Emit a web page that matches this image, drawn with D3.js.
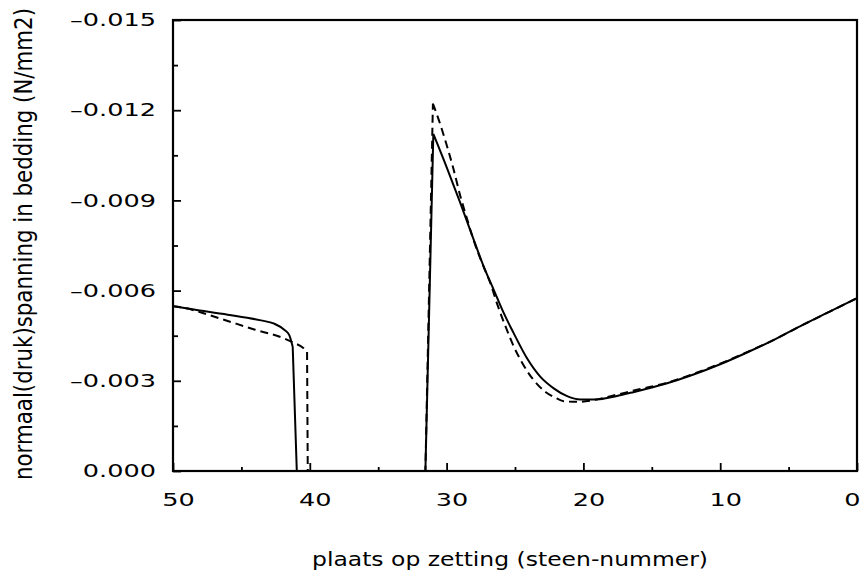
<!DOCTYPE html>
<html>
<head>
<meta charset="utf-8">
<script src="https://cdn.jsdelivr.net/npm/d3@7"></script>
<style>
  html, body { margin: 0; padding: 0; background: #fff; }
  svg { display: block; }
  text { font-family: "DejaVu Sans", sans-serif; fill: #000; }
</style>
</head>
<body>
<svg id="chart" width="864" height="572"></svg>
<script>
// Normal (compressive) stress in the bedding along the revetment, per stone number.
// Solid series
const solidStone = [50, 48.47, 46, 43.58, 42.6, 41.87, 41.5, 41.25, 40.95, 31.55, 30.97, 29.95, 28.98, 28.0,
  27.27, 26.54, 25.81, 25.08, 24.11, 23.14, 22.17, 21.19, 20.22, 19.0, 17.79, 16.57, 14, 12, 10, 8, 6, 4, 2, 0];
const solidStress = [-0.00548, -0.00537, -0.00520, -0.00501, -0.00490, -0.00470, -0.00452, -0.00413, 0, 0,
  -0.01121, -0.01005, -0.00889, -0.00767, -0.00678, -0.00601, -0.00524, -0.00457, -0.00374, -0.00313, -0.00275,
  -0.00249, -0.00238, -0.00238, -0.00247, -0.00260, -0.00290, -0.00320, -0.00355, -0.00395, -0.00438, -0.00485,
  -0.00530, -0.00575];

// Dashed series
const dashedStone = [50, 49, 48, 46, 44, 42, 41.2, 40.45, 40.2, 40.15, 31.55, 31.0, 30.56, 30.0, 29.5, 29.0,
  28.5, 28.0, 27.3, 26.8, 26.3, 25.6, 25.08, 24.5, 23.99, 23.4, 22.77, 22.1, 21.44, 20.46, 19.25, 18, 16, 14,
  12, 10, 8, 6, 4, 2, 0];
const dashedStress = [-0.00548, -0.00541, -0.00528, -0.00499, -0.00470, -0.00443, -0.00427, -0.00408, -0.00396,
  0, 0, -0.01222, -0.01166, -0.01085, -0.01005, -0.00915, -0.00838, -0.00764, -0.00680, -0.00625, -0.00555,
  -0.00470, -0.00413, -0.00362, -0.00324, -0.00290, -0.00263, -0.00245, -0.00232, -0.00230, -0.00236, -0.00249,
  -0.00271, -0.00292, -0.00322, -0.00357, -0.00396, -0.00438, -0.00485, -0.00530, -0.00575];

// Axis ticks and titles
const majorStoneTicks = [50, 40, 30, 20, 10, 0];
const minorStoneTicks = [45, 35, 25, 15, 5];
const majorStressTicks = [0, -0.003, -0.006, -0.009, -0.012, -0.015];
const minorStressTicks = [-0.0015, -0.0045, -0.0075, -0.0105, -0.0135];
const xTitle = "plaats op zetting (steen-nummer)";
const yTitle = "normaal(druk)spanning in bedding (N/mm2)";

const plotLeft = 173, plotRight = 857, plotTop = 20, plotBottom = 471;

const x = d3.scaleLinear().domain([50, 0]).range([plotLeft, plotRight]);
const y = d3.scaleLinear().domain([0, -0.015]).range([plotBottom, plotTop]);

const svg = d3.select("#chart");

const fmt = d3.formatLocale({ decimal: ".", thousands: ",", grouping: [3], currency: ["", ""], minus: "\u2013" }).format(".3f");

// Horizontal axis: ticks point into the plot
const xMajor = svg.append("g").attr("transform", `translate(0,${plotBottom})`)
  .call(d3.axisBottom(x).tickValues(majorStoneTicks).tickSize(-8).tickSizeOuter(0).tickFormat(d3.format("d")));
const xMinor = svg.append("g").attr("transform", `translate(0,${plotBottom})`)
  .call(d3.axisBottom(x).tickValues(minorStoneTicks).tickSize(-4).tickSizeOuter(0).tickFormat(""));

// Vertical axis
const yMajor = svg.append("g").attr("transform", `translate(${plotLeft},0)`)
  .call(d3.axisLeft(y).tickValues(majorStressTicks).tickSize(-8).tickSizeOuter(0).tickFormat(fmt));
const yMinor = svg.append("g").attr("transform", `translate(${plotLeft},0)`)
  .call(d3.axisLeft(y).tickValues(minorStressTicks).tickSize(-5).tickSizeOuter(0).tickFormat(""));

[xMajor, xMinor, yMajor, yMinor].forEach(g => {
  g.select(".domain").remove();
  g.selectAll(".tick line").attr("stroke", "#000").attr("stroke-width", 1.8);
});

// Wide plotter-style lettering for tick labels
xMajor.selectAll(".tick text")
  .attr("font-size", 18)
  .attr("fill", "#000")
  .attr("y", 0)
  .attr("dy", "0.71em")
  .attr("transform", (d, i, n) => `translate(${i === n.length - 1 ? -5 : 5},22) scale(1.42,1)`);

yMajor.selectAll(".tick text")
  .attr("font-size", 18)
  .attr("fill", "#000")
  .attr("x", 0)
  .attr("transform", "translate(-17,0) scale(1.42,1)");

// Clip for the curves
svg.append("clipPath").attr("id", "plotClip")
  .append("rect").attr("x", plotLeft).attr("y", plotTop)
  .attr("width", plotRight - plotLeft).attr("height", plotBottom - plotTop);

const smooth = d3.line().x(d => x(d[0])).y(d => y(d[1])).curve(d3.curveMonotoneX);
const straight = d3.line().x(d => x(d[0])).y(d => y(d[1])).curve(d3.curveLinear);

// A series is drawn in three pieces: the smooth plateau, the straight drop / unloaded run / rise
// to the peak, and the smooth decay after the peak.
function pieces(stones, stresses) {
  const pts = d3.zip(stones, stresses);
  const firstZero = stresses.indexOf(0);
  const peak = d3.minIndex(stresses);
  return [
    { pts: pts.slice(0, firstZero), gen: smooth },
    { pts: pts.slice(firstZero - 1, peak + 1), gen: straight },
    { pts: pts.slice(peak), gen: smooth }
  ];
}

const curves = svg.append("g").attr("clip-path", "url(#plotClip)");

function drawSeries(stones, stresses, dash) {
  const p = pieces(stones, stresses);
  const d = p.map(s => s.gen(s.pts)).join("");
  curves.append("path")
    .attr("d", d)
    .attr("fill", "none")
    .attr("stroke", "#000")
    .attr("stroke-width", 2)
    .attr("stroke-linejoin", "round")
    .attr("stroke-dasharray", dash);
}

drawSeries(dashedStone, dashedStress, "8,5");
drawSeries(solidStone, solidStress, null);

// Plot frame
svg.append("rect")
  .attr("x", plotLeft).attr("y", plotTop)
  .attr("width", plotRight - plotLeft).attr("height", plotBottom - plotTop)
  .attr("fill", "none").attr("stroke", "#000").attr("stroke-width", 2.2);

// Axis titles
svg.append("text")
  .attr("x", 510).attr("y", 566)
  .attr("text-anchor", "middle")
  .attr("font-size", 20)
  .attr("textLength", 396)
  .attr("lengthAdjust", "spacingAndGlyphs")
  .text(xTitle);

svg.append("text")
  .attr("transform", "translate(32,244) rotate(-90) scale(1,1.25)")
  .attr("text-anchor", "middle")
  .attr("font-size", 20)
  .attr("textLength", 472)
  .attr("lengthAdjust", "spacingAndGlyphs")
  .text(yTitle);
</script>
</body>
</html>
